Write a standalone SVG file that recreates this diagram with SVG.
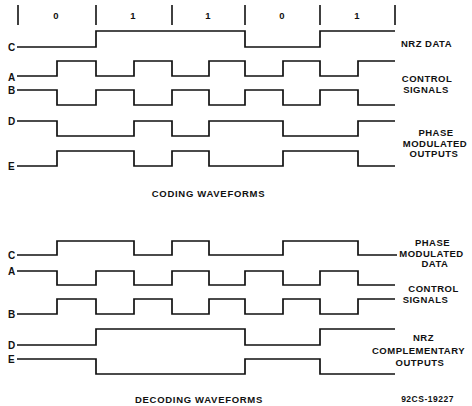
<svg xmlns="http://www.w3.org/2000/svg" width="472" height="406" viewBox="0 0 472 406">
<style>
.w{fill:none;stroke:#111;stroke-width:1.7;stroke-linejoin:miter;stroke-linecap:butt}
.t{stroke:#111;stroke-width:1.6}
.l{font-family:"Liberation Sans",Arial,sans-serif;font-weight:bold;font-size:9.5px;letter-spacing:0.5px;fill:#111}
.m{text-anchor:middle}
.k{font-size:10px}
.b{font-family:"Liberation Sans",Arial,sans-serif;font-weight:bold;font-size:9.5px;fill:#111;text-anchor:middle}
.h{letter-spacing:0.7px}
</style>
<rect width="472" height="406" fill="#fff"/>
<g id="connectors">
<g id="bit-markers">
<line class="t" x1="18" y1="5" x2="18" y2="25"/>
<line class="t" x1="96" y1="5" x2="96" y2="25"/>
<line class="t" x1="172" y1="5" x2="172" y2="25"/>
<line class="t" x1="245" y1="5" x2="245" y2="25"/>
<line class="t" x1="320" y1="5" x2="320" y2="25"/>
<line class="t" x1="395" y1="5" x2="395" y2="25"/>
</g>
</g>
<g id="bit-labels">
<text class="b" x="56" y="19">0</text>
<text class="b" x="133" y="19">1</text>
<text class="b" x="208" y="19">1</text>
<text class="b" x="282" y="19">0</text>
<text class="b" x="357" y="19">1</text>
</g>
<g id="coding">
<g id="coding-C">
<text class="l k" x="8" y="50.5">C</text>
<path class="w" d="M17 47H96V31H245V47H320V31H395"/>
<text class="l m" x="426.5" y="47">NRZ DATA</text>
</g>
<g id="coding-A">
<text class="l k" x="8" y="80.5">A</text>
<path class="w" d="M17 76H57V61H96V76H134V61H172V76H209V61H245V76H283V61H320V76H358V61H395"/>
</g>
<g id="coding-B">
<text class="l k" x="8" y="93.5">B</text>
<path class="w" d="M17 90H57V105H96V90H134V105H172V90H209V105H245V90H283V105H320V90H358V105H395"/>
</g>
<g id="coding-control-label">
<text class="l m" x="427" y="82">CONTROL</text>
<text class="l m" x="426" y="93">SIGNALS</text>
</g>
<g id="coding-D">
<text class="l k" x="8" y="124.5">D</text>
<path class="w" d="M17 121H57V136H134V121H172V136H209V121H283V136H358V121H395"/>
</g>
<g id="coding-E">
<text class="l k" x="8" y="169.5">E</text>
<path class="w" d="M17 166H57V151H134V166H172V151H209V166H283V151H358V166H395"/>
</g>
<g id="coding-pm-label">
<text class="l m" x="436" y="136">PHASE</text>
<text class="l m" x="435" y="146.5">MODULATED</text>
<text class="l m" x="434" y="157">OUTPUTS</text>
</g>
<text class="l m h" x="208.5" y="197">CODING WAVEFORMS</text>
</g>
<g id="decoding">
<g id="decoding-C">
<text class="l k" x="8" y="259">C</text>
<path class="w" d="M17 255H57V241H134V255H172V241H209V255H283V241H358V255H397"/>
<text class="l m" x="432.5" y="246">PHASE</text>
<text class="l m" x="431.5" y="257">MODULATED</text>
<text class="l m" x="435" y="267">DATA</text>
</g>
<g id="decoding-A">
<text class="l k" x="8" y="274.5">A</text>
<path class="w" d="M17 271H57V285H96V271H134V285H172V271H209V285H245V271H283V285H320V271H358V285H395"/>
</g>
<g id="decoding-B">
<text class="l k" x="8" y="318">B</text>
<path class="w" d="M17 314H57V299H96V314H134V299H172V314H209V299H245V314H283V299H320V314H358V299H395"/>
</g>
<g id="decoding-control-label">
<text class="l m" x="433.5" y="292">CONTROL</text>
<text class="l m" x="425.5" y="303">SIGNALS</text>
</g>
<g id="decoding-D">
<text class="l k" x="8" y="349">D</text>
<path class="w" d="M17 345H96V329H245V345H320V329H395"/>
</g>
<g id="decoding-E">
<text class="l k" x="8" y="363">E</text>
<path class="w" d="M17 359H96V374H245V359H320V374H395"/>
</g>
<g id="decoding-nrz-label">
<text class="l m" x="423.5" y="341">NRZ</text>
<text class="l m" x="418.5" y="353.5">COMPLEMENTARY</text>
<text class="l m" x="420" y="366">OUTPUTS</text>
</g>
<text class="l m h" x="199" y="403">DECODING WAVEFORMS</text>
<text class="l m" x="427.5" y="402" style="font-size:8.5px">92CS-19227</text>
</g>
</svg>
